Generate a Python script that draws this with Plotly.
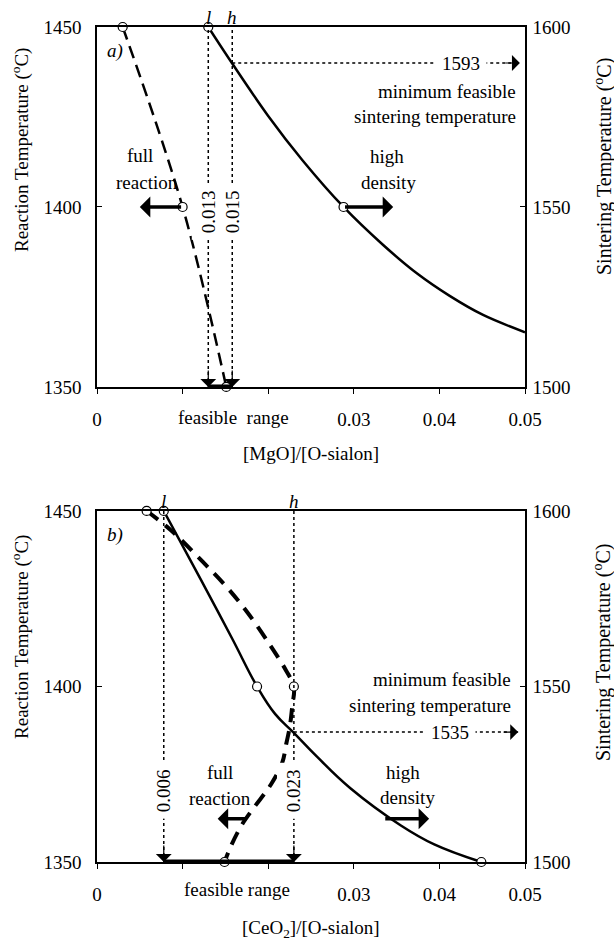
import plotly.graph_objects as go

FONT = "Liberation Serif"
BLACK = "black"

# ---------------- shared axis data ----------------
X_RANGE = [0, 0.05]
X_TICKVALS = [0, 0.01, 0.02, 0.03, 0.04, 0.05]
X_TICKTEXT = ["0", "", "", "0.03", "0.04", "0.05"]
REAC_RANGE = [1350, 1450]
REAC_TICKS = [1350, 1400, 1450]
SINT_RANGE = [1500, 1600]
SINT_TICKS = [1500, 1550, 1600]

# ---------------- panel a) MgO ----------------
a_react_x = [0.0030, 0.0100, 0.0151]
a_react_y = [1450, 1400, 1350]
a_sint_x = [0.0130, 0.0159, 0.0200, 0.0240, 0.0288, 0.0334, 0.0374, 0.0412, 0.0451, 0.0500]
a_sint_y = [1600, 1589.5, 1575.3, 1563.0, 1550, 1539.5, 1531.5, 1525.3, 1520.0, 1515.2]
a_sint_pts_x = [0.0130, 0.0288]
a_sint_pts_y = [1600, 1550]
a_low, a_high = 0.0130, 0.0158
a_low_label, a_high_label = "0.013", "0.015"
a_min_sint = 1590
a_min_sint_label = "1593"

# ---------------- panel b) CeO2 ----------------
b_react_x = [0.0058, 0.0086, 0.0124, 0.0152, 0.0176, 0.0203, 0.0221, 0.0230,
             0.0228, 0.02252, 0.02213, 0.02163, 0.0203, 0.0183, 0.0169, 0.0157, 0.0149]
b_react_y = [1450, 1444.6, 1435.4, 1428.2, 1421, 1411.5, 1404.5, 1400,
             1394.2, 1388.5, 1383.9, 1378.2, 1372.0, 1365.4, 1360.5, 1354.8, 1350]
b_react_pts_x = [0.0058, 0.0230, 0.0149]
b_react_pts_y = [1450, 1400, 1350]
b_sint_x = [0.0078, 0.0121, 0.0158, 0.0187, 0.0208, 0.0230, 0.0257, 0.0296, 0.0355, 0.0394, 0.0449]
b_sint_y = [1600, 1580.6, 1563.6, 1550, 1542.2, 1536.8, 1530.0, 1521.0, 1510.4, 1505.0, 1500]
b_sint_pts_x = [0.0078, 0.0187, 0.0449]
b_sint_pts_y = [1600, 1550, 1500]
b_low, b_high = 0.0078, 0.0230
b_low_label, b_high_label = "0.006", "0.023"
b_min_sint = 1537
b_min_sint_label = "1535"

MARKER = dict(symbol="circle", size=9, color="white", line=dict(color=BLACK, width=1.2))

fig = go.Figure()

# panel a traces
fig.add_trace(go.Scatter(x=a_react_x, y=a_react_y, xaxis="x", yaxis="y", mode="lines+markers",
                         line=dict(color=BLACK, width=2.5, dash="13px,7px", shape="spline"),
                         marker=MARKER, cliponaxis=False, showlegend=False))
fig.add_trace(go.Scatter(x=a_sint_x, y=a_sint_y, xaxis="x", yaxis="y2", mode="lines",
                         line=dict(color=BLACK, width=2.5, shape="spline"),
                         cliponaxis=False, showlegend=False))
fig.add_trace(go.Scatter(x=a_sint_pts_x, y=a_sint_pts_y, xaxis="x", yaxis="y2", mode="markers",
                         marker=MARKER, cliponaxis=False, showlegend=False))

# panel b traces
fig.add_trace(go.Scatter(x=b_react_x, y=b_react_y, xaxis="x2", yaxis="y3", mode="lines",
                         line=dict(color=BLACK, width=4, dash="14px,9px", shape="spline"),
                         cliponaxis=False, showlegend=False))
fig.add_trace(go.Scatter(x=b_react_pts_x, y=b_react_pts_y, xaxis="x2", yaxis="y3", mode="markers",
                         marker=MARKER, cliponaxis=False, showlegend=False))
fig.add_trace(go.Scatter(x=b_sint_x, y=b_sint_y, xaxis="x2", yaxis="y4", mode="lines",
                         line=dict(color=BLACK, width=2.5, shape="spline", smoothing=1.2),
                         cliponaxis=False, showlegend=False))
fig.add_trace(go.Scatter(x=b_sint_pts_x, y=b_sint_pts_y, xaxis="x2", yaxis="y4", mode="markers",
                         marker=MARKER, cliponaxis=False, showlegend=False))

shapes = []
annotations = []


def dotted(x0, y0, x1, y1, xref, yref):
    shapes.append(dict(type="line", x0=x0, y0=y0, x1=x1, y1=y1, xref=xref, yref=yref,
                       line=dict(color=BLACK, width=1.5, dash="dot"), layer="above"))


def text(t, x, y, xref, yref, size=19, **kw):
    d = dict(text=t, x=x, y=y, xref=xref, yref=yref, showarrow=False,
             xanchor="center", yanchor="middle",
             font=dict(family=FONT, size=size, color=BLACK))
    d.update(kw)
    annotations.append(d)


def head(x, y, xref, yref, ax, ay):
    annotations.append(dict(text="", x=x, y=y, xref=xref, yref=yref, ax=ax, ay=ay,
                            showarrow=True, arrowhead=1, arrowsize=2.2, arrowwidth=1.2,
                            arrowcolor=BLACK))


def thick_arrow(x_tip, x_tail, y, xref, yref):
    annotations.append(dict(text="", x=x_tip, y=y, ax=x_tail, ay=y, xref=xref, yref=yref,
                            axref=xref, ayref=yref, showarrow=True, arrowhead=1,
                            arrowsize=1.0, arrowwidth=3.5, arrowcolor=BLACK))


def panel(xr, yr, yr2, low, high, low_lab, high_lab, tmin, tmin_lab, lab_y,
          tmin_text_x, tmin_tip_x, panel_lab, lab_tag_y, feas_x, feas_text, feas_shift):
    for xv in (low, high):
        dotted(xv, REAC_RANGE[0], xv, REAC_RANGE[1], xr, yr)
        head(xv, REAC_RANGE[0], xr, yr, 0, -18)
    dotted(high, tmin, tmin_tip_x, tmin, xr, yr2)
    head(tmin_tip_x, tmin, xr, yr2, -16, 0)
    shapes.append(dict(type="line", x0=low, x1=high, y0=REAC_RANGE[0], y1=REAC_RANGE[0],
                       xref=xr, yref=yr, line=dict(color=BLACK, width=5), layer="above"))
    text(low_lab, low, lab_y, xr, yr, textangle=-90, bgcolor="white", borderpad=6)
    text(high_lab, high, lab_y, xr, yr, textangle=-90, bgcolor="white", borderpad=6)
    text(tmin_lab, tmin_text_x, tmin, xr, yr2, bgcolor="white", borderpad=6)
    text("<i>l</i>", low, REAC_RANGE[1], xr, yr, yanchor="bottom", yshift=-3)
    text("<i>h</i>", high, REAC_RANGE[1], xr, yr, yanchor="bottom", yshift=-3)
    text("<i>" + panel_lab + "</i>", 0.0021, lab_tag_y, xr, yr)
    text(feas_text, feas_x, REAC_RANGE[0], xr, yr, yshift=feas_shift)


# panel a annotations
panel("x", "y", "y2", a_low, a_high, a_low_label, a_high_label, a_min_sint, a_min_sint_label,
      1398.6, 0.0425, 0.0494, "a)", 1443.3, 0.0159, "feasible\u00a0 range", -31)
text("full", 0.0050, 1414.4, "x", "y")
text("reaction", 0.0058, 1406.9, "x", "y")
text("high", 0.0339, 1413.9, "x", "y")
text("density", 0.0340, 1406.9, "x", "y")
text("minimum feasible", 0.0492, 1432.0, "x", "y", xanchor="right")
text("sintering temperature", 0.0492, 1425.0, "x", "y", xanchor="right")
thick_arrow(0.0050, 0.0100, 1400, "x", "y")
thick_arrow(0.0346, 0.0288, 1550, "x", "y2")

# panel b annotations
panel("x2", "y3", "y4", b_low, b_high, b_low_label, b_high_label, b_min_sint, b_min_sint_label,
      1370.4, 0.0412, 0.0492, "b)", 1443.2, 0.0163, "feasible range", -28)
text("full", 0.0144, 1375.6, "x2", "y3")
text("reaction", 0.0144, 1368.2, "x2", "y3")
text("high", 0.0358, 1375.6, "x2", "y3")
text("density", 0.0363, 1368.5, "x2", "y3")
text("minimum feasible", 0.0486, 1401.9, "x2", "y3", xanchor="right")
text("sintering temperature", 0.0486, 1394.7, "x2", "y3", xanchor="right")
thick_arrow(0.0141, 0.0175, 1362.3, "x2", "y3")
thick_arrow(0.0388, 0.0335, 1512.3, "x2", "y4")

# axis titles (paper coords)
text("[MgO]/[O-sialon]", 0.5, 0.4898, "paper", "paper")
text("[CeO<sub>2</sub>]/[O-sialon]", 0.5, -0.0802, "paper", "paper")
text("Reaction Temperature (<sup>o</sup>C)", 0, 0.8527, "paper", "paper", textangle=-90, xshift=-76)
text("Reaction Temperature (<sup>o</sup>C)", 0, 0.2695, "paper", "paper", textangle=-90, xshift=-76)
text("Sintering Temperature (<sup>o</sup>C)", 1, 0.8323, "paper", "paper", textangle=-90, xshift=78, size=20)
text("Sintering Temperature (<sup>o</sup>C)", 1, 0.2503, "paper", "paper", textangle=-90, xshift=78, size=20)

tickfont = dict(family=FONT, size=19, color=BLACK)
xax = dict(range=X_RANGE, tickvals=X_TICKVALS, ticktext=X_TICKTEXT, showline=True, mirror=True,
           linecolor=BLACK, linewidth=1.5, ticks="outside", ticklen=5, tickcolor=BLACK,
           showgrid=False, zeroline=False, tickfont=tickfont, ticklabelstandoff=9)
yl = dict(range=REAC_RANGE, tickvals=REAC_TICKS, showline=True, linecolor=BLACK, linewidth=1.5,
          ticks="inside", ticklen=5, tickcolor=BLACK, showgrid=False, zeroline=False,
          tickfont=tickfont, ticklabelstandoff=10)
yr = dict(range=SINT_RANGE, tickvals=SINT_TICKS, showline=True, linecolor=BLACK, linewidth=1.5,
          ticks="inside", ticklen=5, tickcolor=BLACK, showgrid=False, zeroline=False,
          tickfont=tickfont, ticklabelstandoff=2, side="right")

A_DOMAIN = [0.5689, 1]
B_DOMAIN = [0, 0.4204]

fig.update_layout(
    width=614, height=941,
    margin=dict(l=97, r=89, t=27, b=79),
    paper_bgcolor="white", plot_bgcolor="white",
    showlegend=False,
    font=dict(family=FONT, size=19, color=BLACK),
    xaxis=dict(xax, domain=[0, 1], anchor="y"),
    xaxis2=dict(xax, domain=[0, 1], anchor="y3"),
    yaxis=dict(yl, domain=A_DOMAIN, anchor="x"),
    yaxis2=dict(yr, domain=A_DOMAIN, overlaying="y", anchor="x"),
    yaxis3=dict(yl, domain=B_DOMAIN, anchor="x2"),
    yaxis4=dict(yr, domain=B_DOMAIN, overlaying="y3", anchor="x2"),
    shapes=shapes,
    annotations=annotations,
)

fig.write_html("out.html",
               config={"displayModeBar": False},
               post_script="document.body.style.margin='0';document.body.style.overflow='hidden';")
